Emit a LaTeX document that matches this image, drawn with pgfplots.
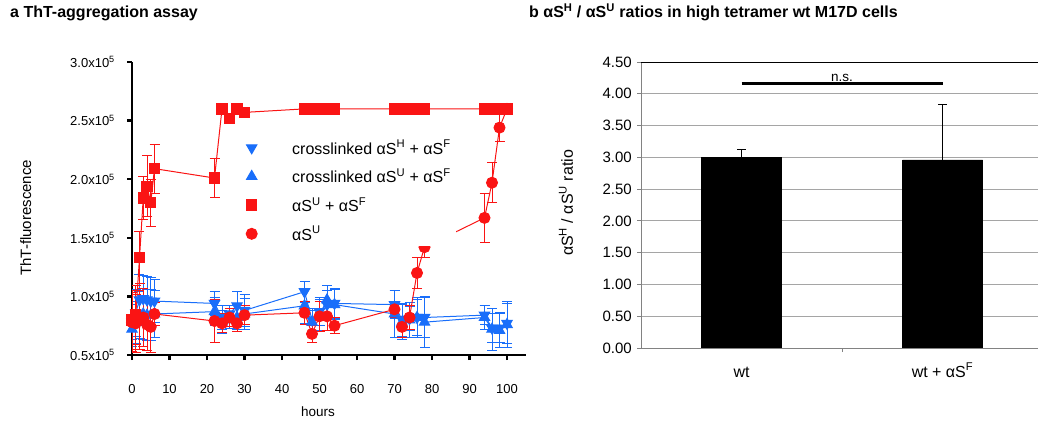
\documentclass[border=0pt]{standalone}
\usepackage{fontspec}
\setmainfont{Liberation Sans}
\usepackage{pgfplots}
\usepackage{pgfplotstable}
\pgfplotsset{compat=1.18}
\definecolor{bl}{RGB}{25,110,250}
\definecolor{rd}{RGB}{250,20,20}
\definecolor{gr}{RGB}{165,165,165}
\definecolor{axgr}{RGB}{130,130,130}

% crosslinked aS^H + aS^F (down triangles)
\pgfplotstableread{
x y e
0 0.78 0.15
1 0.86 0.20
2 0.97 0.22
3 0.98 0.20
4 0.97 0.20
5 0.96 0.20
6 0.96 0.18
22 0.94 0.10
24 0.82 0.10
26 0.85 0.07
28 0.92 0.12
30 0.88 0.14
46 1.04 0.09
48 0.80 0.10
50 0.87 0.12
52 0.93 0.12
54 0.94 0.13
70 0.93 0.12
72 0.80 0.14
74 0.81 0.10
76 0.82 0.17
78 0.82 0.17
94 0.84 0.08
96 0.73 0.12
98 0.73 0.12
100 0.77 0.17
}\downT
% crosslinked aS^U + aS^F (up triangles)
\pgfplotstableread{
x y e
0 0.72 0.15
1 0.78 0.18
2 0.84 0.20
3 0.85 0.22
4 0.84 0.22
5 0.84 0.22
6 0.85 0.20
22 0.87 0.12
24 0.78 0.10
26 0.80 0.07
28 0.82 0.10
30 0.85 0.13
46 0.92 0.15
48 0.78 0.10
50 0.84 0.13
52 0.97 0.12
54 0.93 0.13
70 0.85 0.20
72 0.78 0.15
74 0.80 0.15
76 0.82 0.15
78 0.78 0.22
94 0.82 0.10
96 0.72 0.18
98 0.71 0.15
100 0.76 0.20
}\upT
% aS^U + aS^F (squares)
\pgfplotstableread{
x y e
0 0.80 0.25
1 0.84 0.25
2 1.33 0.22
3 1.84 0.18
4 1.94 0.26
5 1.80 0.20
6 2.09 0.21
22 2.01 0.17
24 2.60 0
26 2.52 0.03
28 2.60 0
30 2.57 0
46 2.60 0
48 2.60 0
50 2.60 0
52 2.60 0
54 2.60 0
70 2.60 0
72 2.60 0
74 2.60 0
76 2.60 0
78 2.60 0
94 2.60 0
96 2.60 0
98 2.60 0
100 2.60 0
}\sqT
% aS^U (circles)
\pgfplotstableread{
x y e
0 0.78 0.25
1 0.77 0.25
2 0.80 0.25
3 0.82 0.25
4 0.76 0.22
5 0.74 0.22
6 0.85 0.10
22 0.79 0.18
24 0.77 0.08
26 0.82 0.08
28 0.77 0.07
30 0.84 0.08
46 0.86 0.10
48 0.68 0.07
50 0.83 0.13
52 0.83 0.12
54 0.75 0.07
70 0.89 0.07
72 0.74 0.09
74 0.82 0.10
76 1.20 0.13
78 1.42 0.09
94 1.67 0.21
96 1.97 0.17
98 2.44 0.12
100 2.60 0
}\ciT

\begin{document}
\begin{tikzpicture}[x=1pt,y=1pt]
\node[anchor=base west, inner sep=0, font=\bfseries\fontsize{16}{19}\selectfont] at (10,405.5) {a ThT-aggregation assay};
\node[anchor=base west, inner sep=0, font=\bfseries\fontsize{16}{19}\selectfont] at (529,405) {b αS\textsuperscript{H} / αS\textsuperscript{U} ratios in high tetramer wt M17D cells};

\begin{axis}[
  at={(132pt,68pt)}, anchor=south west, scale only axis,
  width=393.75pt, height=293pt,
  xmin=0, xmax=105, ymin=0.5, ymax=3,
  axis x line*=bottom, axis y line*=left,
  axis line style={black, line width=2.5pt, -},
  xtick={0,10,...,100}, ytick={0.5,1,...,3},
  yticklabels={0.5x10\textsuperscript{5},1.0x10\textsuperscript{5},1.5x10\textsuperscript{5},2.0x10\textsuperscript{5},2.5x10\textsuperscript{5},3.0x10\textsuperscript{5}},
  tick align=outside, major tick length=5pt,
  every tick/.style={black, line width=2.5pt},
  xticklabel style={anchor=base, yshift=-33pt, inner sep=0pt, font=\fontsize{13}{15}\selectfont, /pgf/number format/assume math mode=true},
  yticklabel style={anchor=east, xshift=-12pt, inner sep=0pt, font=\fontsize{13}{15}\selectfont},
  xlabel={hours},
  xlabel style={at={(axis description cs:0.4724,0)}, anchor=base, yshift=-61pt, font=\fontsize{13.5}{16}\selectfont},
  ylabel={ThT-fluorescence},
  ylabel style={at={(axis description cs:-0.27,0.468)}, anchor=center, font=\fontsize{15}{18}\selectfont},
  legend image code/.code={\path (-5pt,0pt) (38pt,0pt); \draw[#1, only marks] plot coordinates {(0pt,0pt)};},
  legend cell align=left,
  legend style={at={(axis cs:29.6,2.37)}, anchor=north west, fill=white, draw=none, font=\fontsize{16}{19}\selectfont, row sep=9.2pt},
]
\addplot[bl, line width=1pt, mark=triangle*, mark size=6pt, mark options={solid, rotate=180},
  error bars/.cd, y dir=both, y explicit, error bar style={line width=1pt}, error mark options={rotate=90, mark size=5pt, line width=1pt}]
  table[x=x, y=y, y error=e] {\downT};
\addlegendentry{crosslinked αS\textsuperscript{H} + αS\textsuperscript{F}}
\addplot[bl, line width=1pt, mark=triangle*, mark size=6pt, mark options={solid},
  error bars/.cd, y dir=both, y explicit, error bar style={line width=1pt}, error mark options={rotate=90, mark size=5pt, line width=1pt}]
  table[x=x, y=y, y error=e] {\upT};
\addlegendentry{crosslinked αS\textsuperscript{U} + αS\textsuperscript{F}}
\addplot[rd, line width=1pt, mark=square*, mark size=5.2pt, mark options={solid},
  error bars/.cd, y dir=both, y explicit, error bar style={line width=1pt}, error mark options={rotate=90, mark size=5pt, line width=1pt}]
  table[x=x, y=y, y error=e] {\sqT};
\addlegendentry{αS\textsuperscript{U} + αS\textsuperscript{F}}
\addplot[rd, line width=1pt, mark=*, mark size=5.5pt, mark options={solid},
  error bars/.cd, y dir=both, y explicit, error bar style={line width=1pt}, error mark options={rotate=90, mark size=5pt, line width=1pt}]
  table[x=x, y=y, y error=e] {\ciT};
\addlegendentry{αS\textsuperscript{U}}
\end{axis}

\begin{axis}[
  at={(641pt,75pt)}, anchor=south west, scale only axis,
  width=402pt, height=286pt,
  xmin=-0.5, xmax=1.5, ymin=0, ymax=4.5,
  axis line style={axgr, line width=0.8pt},
  ytick={0,0.5,...,4.5},
  ymajorgrids, grid style={gr, line width=0.9pt},
  ytick pos=left, xtick pos=bottom,
  tick align=outside, major tick length=4pt,
  every tick/.style={axgr, line width=0.8pt},
  xtick={0.5}, xticklabels={},
  extra x ticks={0,1}, extra x tick labels={wt, wt + αS\textsuperscript{F}},
  extra x tick style={major tick length=0pt, xticklabel style={anchor=base, yshift=-29pt, font=\fontsize{16}{19}\selectfont}},
  yticklabel style={/pgf/number format/fixed, /pgf/number format/fixed zerofill, /pgf/number format/precision=2, /pgf/number format/assume math mode=true, anchor=east, inner sep=0pt, xshift=-5pt, font=\fontsize{15}{18}\selectfont},
  ylabel={αS\textsuperscript{H} / αS\textsuperscript{U} ratio},
  ylabel style={at={(axis description cs:-0.1866,0.507)}, anchor=center, font=\fontsize{16}{19}\selectfont},
]
\addplot[ybar, bar width=80pt, fill=black, draw=black,
  error bars/.cd, y dir=plus, y explicit, error bar style={black, line width=0.9pt}, error mark options={rotate=90, black, mark size=4.5pt, line width=0.9pt}]
  coordinates {(0,3.00) +- (0,0.13) (1,2.96) +- (0,0.87)};
\addplot[black, line width=2.5pt, no markers] coordinates {(0,4.165) (1,4.165)};
\node[anchor=base, font=\fontsize{13.5}{15}\selectfont] at (axis cs:0.5,4.2) {n.s.};
\draw[black, line width=1pt] (rel axis cs:0,1) -- (rel axis cs:1,1);
\end{axis}
\pgfresetboundingbox
\useasboundingbox (0,0) rectangle (1038,423);
\end{tikzpicture}
\end{document}
